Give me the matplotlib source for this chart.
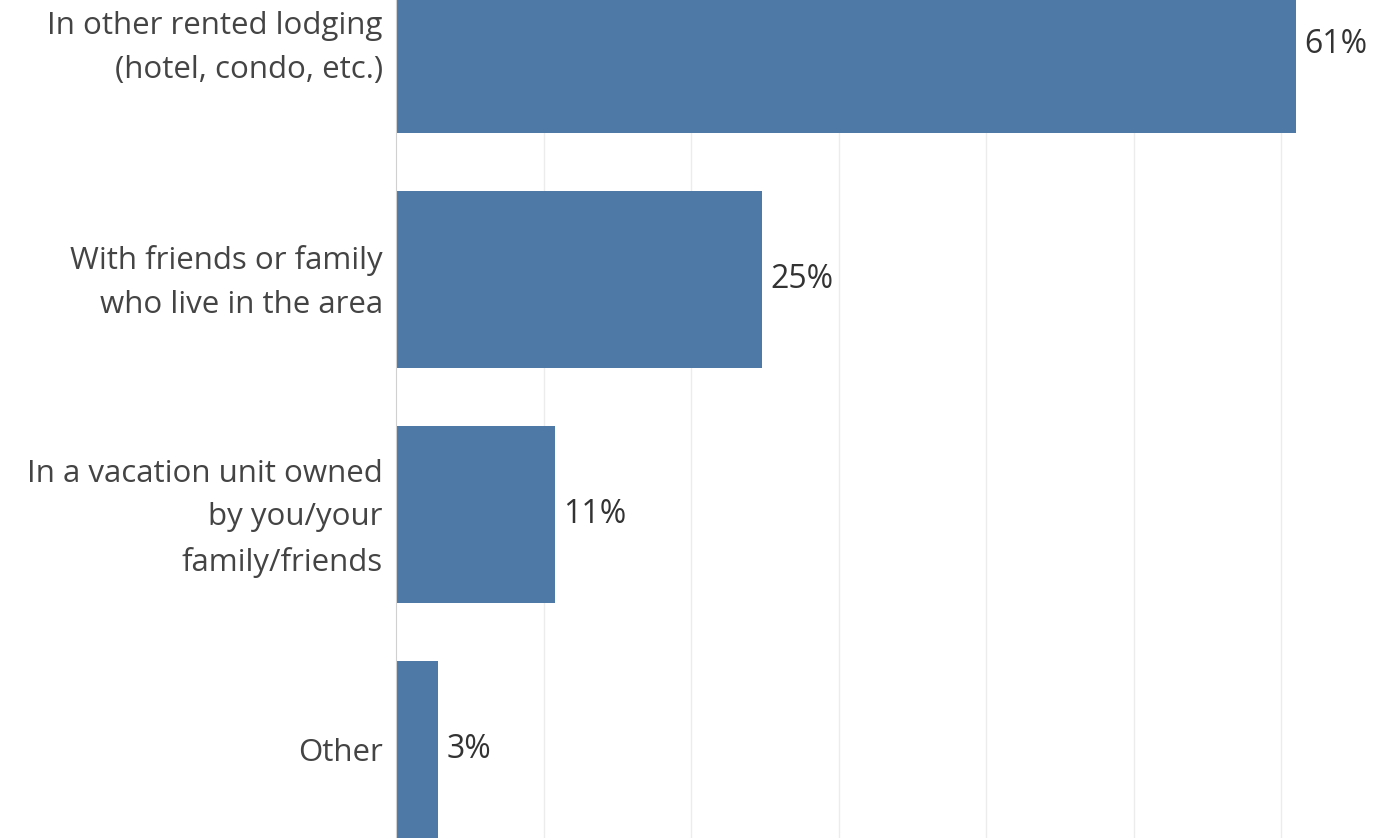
import matplotlib.pyplot as plt
from matplotlib.transforms import ScaledTranslation

# Where respondents stayed (bar lengths, labels rounded)
categories = [
    "In other rented lodging\n(hotel, condo, etc.)",
    "With friends or family\nwho live in the area",
    "In a vacation unit owned\nby you/your\nfamily/friends",
    "Other",
]
values = [61.0, 24.8, 10.8, 2.85]

plt.rcParams["font.family"] = ["Open Sans", "DejaVu Sans"]

fig = plt.figure(figsize=(13.89, 8.38), dpi=100)
ax = fig.add_axes([396 / 1389, 0, 1 - 396 / 1389, 1])

pos = list(range(len(categories)))
ax.barh(pos, values, height=0.753, color="#4e79a7", zorder=2)

for p, v in zip(pos, values):
    ax.text(v + 0.55, p, f"{round(v)}%", va="center", ha="left", fontsize=23, color="#333333")

ax.set_xlim(0, 67.3)
ax.set_ylim(3.377, -0.189)
ax.set_xticks([10, 20, 30, 40, 50, 60])
ax.xaxis.grid(True, color="#ececec", linewidth=1, zorder=0)
ax.tick_params(axis="x", length=0, labelbottom=False)

ax.set_yticks(pos)
ax.set_yticklabels(categories, fontsize=22.5, color="#444444", linespacing=1.6)
ax.tick_params(axis="y", length=0, pad=9.5)

# multi-line labels come out a bit low, nudge them up
shift = ScaledTranslation(0, 0.07, fig.dpi_scale_trans)
for lbl in ax.get_yticklabels():
    if "\n" in lbl.get_text():
        lbl.set_transform(lbl.get_transform() + shift)

for side in ["top", "right", "bottom"]:
    ax.spines[side].set_visible(False)
ax.spines["left"].set_color("#d0d0d0")

fig.savefig("out.png", dpi=100)
